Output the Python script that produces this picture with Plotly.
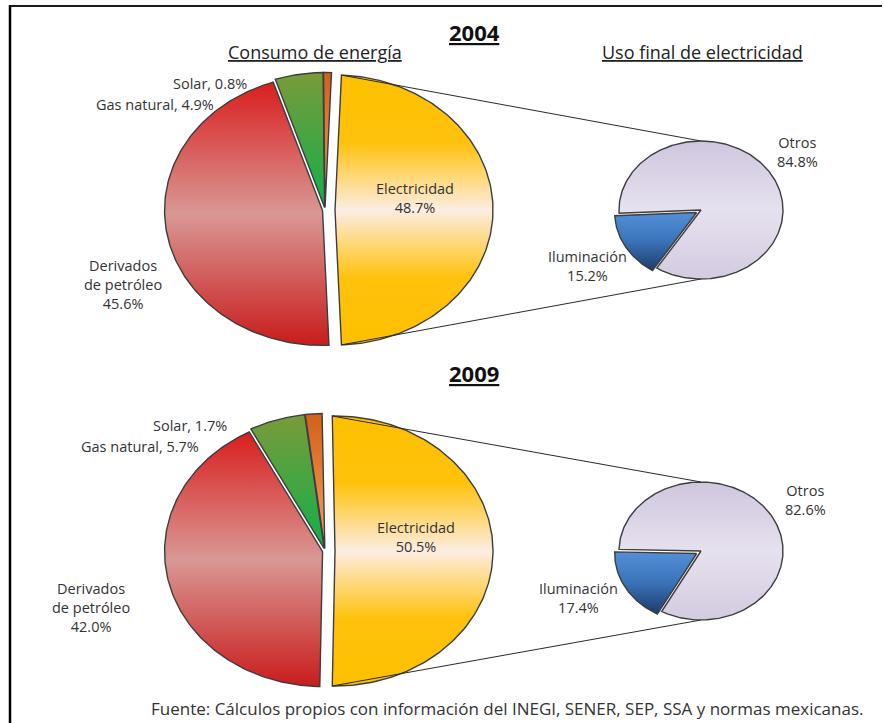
import numpy as np
import plotly.graph_objects as go

# ---------------- data ----------------
fuentes = ["Electricidad", "Derivados de petróleo", "Gas natural", "Solar"]
consumo_2004 = [48.7, 45.6, 4.9, 0.8]
consumo_2009 = [50.5, 42.0, 5.7, 1.7]

usos = ["Iluminación", "Otros"]
uso_2004 = [15.2, 84.8]
uso_2009 = [17.4, 82.6]

anios = ["2004", "2009"]
fuente_texto = ("Fuente: Cálculos propios con información del INEGI, SENER, SEP, "
                "SSA y normas mexicanas.")

# ---------------- styles ----------------
W, H = 884, 723
FONT = "Open Sans"
OUTLINE = "#3d3d3d"
LABEL = "#333333"
LBL_SIZE = 14.5

grad_main = {
    "Electricidad": [[0, "#FFC000"], [0.25, "#FFC20C"], [0.5, "#FCEDE3"],
                     [0.75, "#FFC20C"], [1, "#FFC000"]],
    "Derivados de petróleo": [[0, "#D81E1E"], [0.5, "#D99894"], [1, "#C81C1C"]],
    "Gas natural": [[0, "#7A9A3A"], [1, "#10B04A"]],
    "Solar": [[0, "#D2601A"], [1, "#F6A060"]],
}
grad_uso = {
    "Iluminación": [[0, "#5290D8"], [0.5, "#3B72B8"], [1, "#1B3C6A"]],
    "Otros": [[0, "#CFC6DE"], [0.5, "#E6E1EE"], [1, "#D3CBE0"]],
}

# geometry of each panel (pixel units on the hidden axes)
paneles = [
    dict(cy=210, sub=True, year_y=32,
         lbl={"Electricidad": (415, 198), "Derivados de petróleo": (123, 284),
              "Gas natural": (215, 104), "Solar": (248, 83),
              "Otros": (797, 152), "Iluminación": (587, 266)}),
    dict(cy=551, sub=False, year_y=373,
         lbl={"Electricidad": (416, 537), "Derivados de petróleo": (91, 607),
              "Gas natural": (200, 446), "Solar": (228, 425),
              "Otros": (805, 500), "Iluminación": (578, 598)}),
]
MAIN = dict(cx=325, rx=158, ry=135)
SEC = dict(cx=701, rx=82, ry=69)
PULL_MAIN = {"Electricidad": 10, "Derivados de petróleo": 2.5, "Gas natural": 2.5, "Solar": 2.5}
PULL_SEC = {"Iluminación": 5, "Otros": 0}


def slice_angles(values, first_center):
    """Clockwise angles (deg from 12 o'clock); the first slice is centred on first_center."""
    total = float(sum(values))
    spans = [v / total * 360.0 for v in values]
    a = first_center - spans[0] / 2.0
    out = []
    for s in spans:
        out.append((a, a + s))
        a += s
    return out


def wedge(cx, cy, rx, ry, a0, a1, pull=0.0):
    am = np.radians((a0 + a1) / 2.0)
    ox, oy = pull * np.sin(am), -pull * np.cos(am)
    n = max(int(abs(a1 - a0) / 1.0) + 2, 3)
    t = np.radians(np.linspace(a0, a1, n))
    xs = np.concatenate([[cx], cx + rx * np.sin(t), [cx]]) + ox
    ys = np.concatenate([[cy], cy - ry * np.cos(t), [cy]]) + oy
    return xs, ys


def add_slice(fig, xs, ys, cs):
    fig.add_trace(go.Scatter(
        x=xs, y=ys, mode="lines", fill="toself",
        line=dict(color=OUTLINE, width=1.4),
        fillgradient=dict(type="vertical", colorscale=cs,
                          start=float(ys.min()), stop=float(ys.max())),
        hoverinfo="skip", showlegend=False))


fig = go.Figure()
annotations = []


def text(x, y, s, size=LBL_SIZE, color=LABEL, xanchor="center", bold=False):
    annotations.append(dict(
        x=x, y=y, xref="x", yref="y", text=s, showarrow=False,
        xanchor=xanchor, yanchor="middle", align="center", borderpad=0,
        font=dict(family=FONT, size=size, color=color,
                  weight="bold" if bold else "normal")))


for anio, consumo, uso, p in zip(anios, [consumo_2004, consumo_2009],
                                 [uso_2004, uso_2009], paneles):
    cy = p["cy"]

    # main pie: energy consumption
    ang = slice_angles(consumo, 90.0)
    corners = None
    for name, (a0, a1) in zip(fuentes, ang):
        xs, ys = wedge(MAIN["cx"], cy, MAIN["rx"], MAIN["ry"], a0, a1, PULL_MAIN[name])
        add_slice(fig, xs, ys, grad_main[name])
        if name == "Electricidad":
            corners = (xs[1], ys[1], xs[-2], ys[-2])

    # connectors from the electricity slice to the secondary pie
    fig.add_trace(go.Scatter(
        x=[corners[0], SEC["cx"], None, corners[2], SEC["cx"]],
        y=[corners[1], cy - SEC["ry"], None, corners[3], cy + SEC["ry"]],
        mode="lines", line=dict(color="#2b2b2b", width=1),
        hoverinfo="skip", showlegend=False))

    # secondary pie: final use of electricity
    ang2 = slice_angles(uso, 240.0)
    for i in [1, 0]:  # "Otros" first so the lighting slice sits on top
        name = usos[i]
        a0, a1 = ang2[i]
        xs, ys = wedge(SEC["cx"], cy, SEC["rx"], SEC["ry"], a0, a1, PULL_SEC[name])
        add_slice(fig, xs, ys, grad_uso[name])

    # labels
    L = p["lbl"]
    e, d, g, s = consumo
    text(*L["Electricidad"], f"Electricidad<br>{e:.1f}%")
    text(*L["Derivados de petróleo"], f"Derivados<br>de petróleo<br>{d:.1f}%")
    text(*L["Gas natural"], f"Gas natural, {g:.1f}%", xanchor="right")
    text(*L["Solar"], f"Solar, {s:.1f}%", xanchor="right")
    text(*L["Otros"], f"Otros<br>{uso[1]:.1f}%")
    text(*L["Iluminación"], f"Iluminación<br>{uso[0]:.1f}%")

    # headings
    text(474, p["year_y"], f"<u>{anio}</u>", size=22, color="#111111", bold=True)
    if p["sub"]:
        text(315, 52, "<u>Consumo de energía</u>", size=18, color="#222222")
        text(702, 52, "<u>Uso final de electricidad</u>", size=18, color="#222222")

text(507, 708, fuente_texto, size=17, color="#333333")

fig.update_layout(
    width=W, height=H,
    margin=dict(l=0, r=0, t=0, b=0),
    paper_bgcolor="white", plot_bgcolor="white",
    xaxis=dict(range=[0, W], visible=False, fixedrange=True),
    yaxis=dict(range=[H, 0], visible=False, fixedrange=True),
    annotations=annotations,
    shapes=[
        dict(type="line", xref="x", yref="y", x0=9, x1=882, y0=6, y1=6,
             line=dict(color="#1c1c1c", width=2.2)),
        dict(type="line", xref="x", yref="y", x0=10, x1=10, y0=5, y1=H,
             line=dict(color="#000000", width=2.5)),
    ],
    showlegend=False,
)

fig.write_html("out.html")
